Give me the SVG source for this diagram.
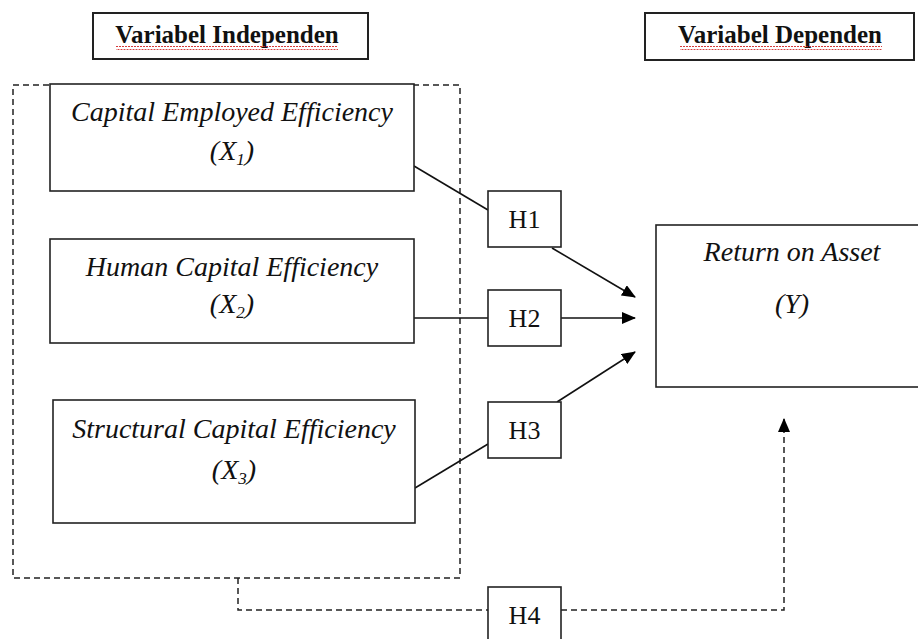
<svg xmlns="http://www.w3.org/2000/svg" width="918" height="639" viewBox="0 0 918 639">
<defs>
<marker id="ah" markerWidth="14" markerHeight="12" refX="13" refY="6" orient="auto" markerUnits="userSpaceOnUse" viewBox="0 0 14 12">
<path d="M0,0 L14,6 L0,12 z" fill="#000"/>
</marker>
<pattern id="wavy" width="6" height="4" patternUnits="userSpaceOnUse">
<path d="M0,3 L1.5,1 L3,3 L4.5,1 L6,3" fill="none" stroke="#d02020" stroke-width="1"/>
</pattern>
<style>
.box{fill:#fff;stroke:#222;stroke-width:1.6}
.hdr{fill:#fff;stroke:#222;stroke-width:2}
.dash{fill:none;stroke:#222;stroke-width:1.5;stroke-dasharray:6,4}
.ln{fill:none;stroke:#111;stroke-width:1.6}
.ital{font-family:"Liberation Serif","Times New Roman",serif;font-style:italic;font-size:28px;fill:#111;text-anchor:middle}
.hbold{font-family:"Liberation Serif","Times New Roman",serif;font-weight:bold;font-size:25px;fill:#111;text-anchor:middle}
.h{font-family:"Liberation Serif","Times New Roman",serif;font-size:26px;fill:#111;text-anchor:middle}
</style>
</defs>
<rect width="918" height="639" fill="#fff"/>
<g id="hdr-independen">
<rect class="hdr" x="93" y="13" width="275" height="46"/>
<text class="hbold" x="227" y="43">Variabel Independen</text>
<rect x="116" y="46" width="222" height="4" fill="url(#wavy)"/>
</g>
<g id="hdr-dependen">
<rect class="hdr" x="645" y="13" width="269" height="47"/>
<text class="hbold" x="780" y="43">Variabel Dependen</text>
<rect x="680" y="46" width="202" height="4" fill="url(#wavy)"/>
</g>
<g id="group-independen">
<rect class="dash" x="13" y="85" width="447" height="493"/>
</g>
<g id="connectors">
<line class="ln" x1="414" y1="166" x2="488" y2="210"/>
<line class="ln" x1="552" y1="248" x2="635" y2="297" marker-end="url(#ah)"/>
<line class="ln" x1="414" y1="318" x2="488" y2="318" stroke-width="2.2"/>
<line class="ln" x1="561" y1="318" x2="635" y2="318" marker-end="url(#ah)"/>
<line class="ln" x1="415" y1="488" x2="488" y2="444"/>
<line class="ln" x1="557" y1="402" x2="635" y2="352" marker-end="url(#ah)"/>
<polyline class="dash" points="238,578 238,610 488,610"/>
<polyline class="dash" points="561,610 784,610 784,419" marker-end="url(#ah)"/>
</g>
<g id="node-x1">
<rect class="box" x="50" y="84" width="364" height="107"/>
<text class="ital" x="232" y="121">Capital Employed Efficiency</text>
<text class="ital" x="232" y="160">(X<tspan font-size="17" dy="5">1</tspan><tspan dy="-5">)</tspan></text>
</g>
<g id="node-x2">
<rect class="box" x="50" y="239" width="364" height="104"/>
<text class="ital" x="232" y="276">Human Capital Efficiency</text>
<text class="ital" x="232" y="313">(X<tspan font-size="17" dy="5">2</tspan><tspan dy="-5">)</tspan></text>
</g>
<g id="node-x3">
<rect class="box" x="53" y="400" width="362" height="123"/>
<text class="ital" x="234" y="438">Structural Capital Efficiency</text>
<text class="ital" x="234" y="479">(X<tspan font-size="17" dy="5">3</tspan><tspan dy="-5">)</tspan></text>
</g>
<g id="node-y">
<rect class="box" x="656" y="225" width="270" height="162"/>
<text class="ital" x="792" y="261">Return on Asset</text>
<text class="ital" x="792" y="313">(Y)</text>
</g>
<g id="node-h1">
<rect class="box" x="488" y="191" width="73" height="56"/>
<text class="h" x="524.5" y="228">H1</text>
</g>
<g id="node-h2">
<rect class="box" x="488" y="290" width="73" height="56"/>
<text class="h" x="524.5" y="327">H2</text>
</g>
<g id="node-h3">
<rect class="box" x="488" y="402" width="73" height="56"/>
<text class="h" x="524.5" y="439">H3</text>
</g>
<g id="node-h4">
<rect class="box" x="488" y="587" width="73" height="60"/>
<text class="h" x="524.5" y="624">H4</text>
</g>
</svg>
